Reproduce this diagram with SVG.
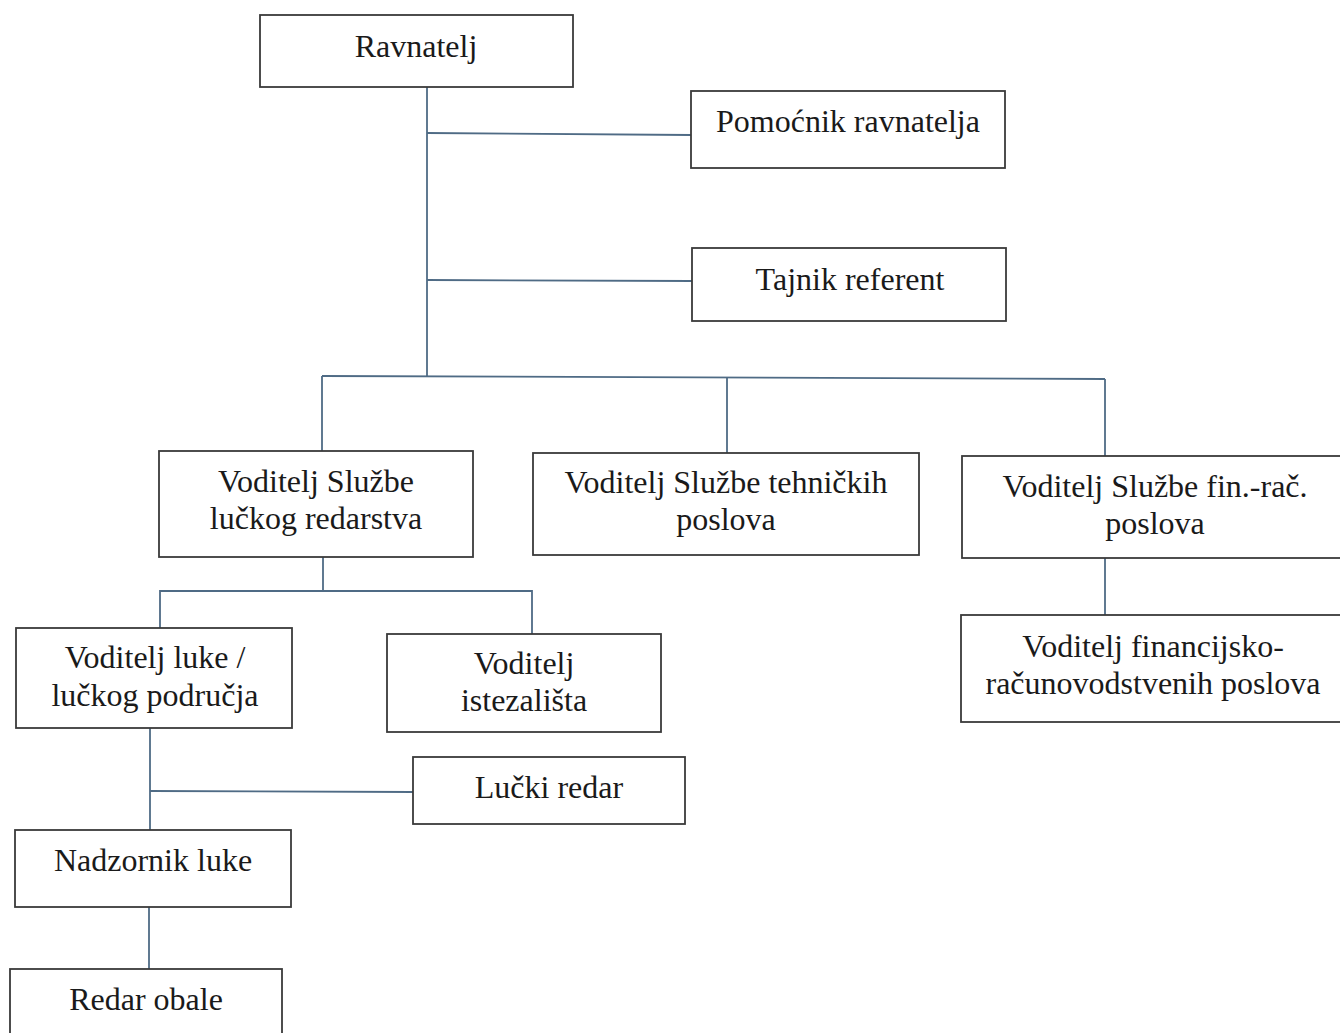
<svg xmlns="http://www.w3.org/2000/svg" width="1340" height="1033" viewBox="0 0 1340 1033">
<style>
.box{fill:#fff;stroke:#3a3a3a;stroke-width:1.8}
.t{font-family:"Liberation Serif","Times New Roman",serif;font-size:32px;fill:#1a1a1a;text-anchor:middle}
.c line,.c polyline{stroke:#4f6b85;stroke-width:1.8;fill:none}
</style>
<rect width="1340" height="1033" fill="#fff"/>
<g class="c" id="connectors">
<line x1="427" y1="87" x2="427" y2="376"/>
<line x1="427" y1="133" x2="691" y2="135"/>
<line x1="427" y1="280" x2="692" y2="281"/>
<line x1="322" y1="376" x2="1105" y2="379"/>
<line x1="322" y1="376" x2="322" y2="451"/>
<line x1="727" y1="378" x2="727" y2="453"/>
<line x1="1105" y1="379" x2="1105" y2="456"/>
<line x1="1105" y1="558" x2="1105" y2="615"/>
<line x1="323" y1="557" x2="323" y2="591"/>
<polyline points="160,629 160,591 532,591 532,634"/>
<line x1="150" y1="728" x2="150" y2="830"/>
<line x1="150" y1="791" x2="413" y2="792"/>
<line x1="149" y1="907" x2="149" y2="969"/>
</g>
<g id="n-ravnatelj"><rect class="box" x="260" y="15" width="313" height="72"/><text class="t" x="416" y="57">Ravnatelj</text></g>
<g id="n-pomocnik"><rect class="box" x="691" y="91" width="314" height="77"/><text class="t" x="848" y="132">Pomoćnik ravnatelja</text></g>
<g id="n-tajnik"><rect class="box" x="692" y="248" width="314" height="73"/><text class="t" x="850" y="290">Tajnik referent</text></g>
<g id="n-redarstvo"><rect class="box" x="159" y="451" width="314" height="106"/><text class="t" x="316" y="492">Voditelj Službe</text><text class="t" x="316" y="529">lučkog redarstva</text></g>
<g id="n-tehnicki"><rect class="box" x="533" y="453" width="386" height="102"/><text class="t" x="726" y="493">Voditelj Službe tehničkih</text><text class="t" x="726" y="530">poslova</text></g>
<g id="n-finrac"><rect class="box" x="962" y="456" width="390" height="102"/><text class="t" x="1155" y="497">Voditelj Službe fin.-rač.</text><text class="t" x="1155" y="534">poslova</text></g>
<g id="n-financijsko"><rect class="box" x="961" y="615" width="390" height="107"/><text class="t" x="1153" y="657">Voditelj financijsko-</text><text class="t" x="1153" y="694">računovodstvenih poslova</text></g>
<g id="n-luke"><rect class="box" x="16" y="628" width="276" height="100"/><text class="t" x="155" y="668">Voditelj luke /</text><text class="t" x="155" y="706">lučkog područja</text></g>
<g id="n-istezaliste"><rect class="box" x="387" y="634" width="274" height="98"/><text class="t" x="524" y="674">Voditelj</text><text class="t" x="524" y="711">istezališta</text></g>
<g id="n-lucki-redar"><rect class="box" x="413" y="757" width="272" height="67"/><text class="t" x="549" y="798">Lučki redar</text></g>
<g id="n-nadzornik"><rect class="box" x="15" y="830" width="276" height="77"/><text class="t" x="153" y="871">Nadzornik luke</text></g>
<g id="n-redar-obale"><rect class="box" x="10" y="969" width="272" height="80"/><text class="t" x="146" y="1010">Redar obale</text></g>
</svg>
